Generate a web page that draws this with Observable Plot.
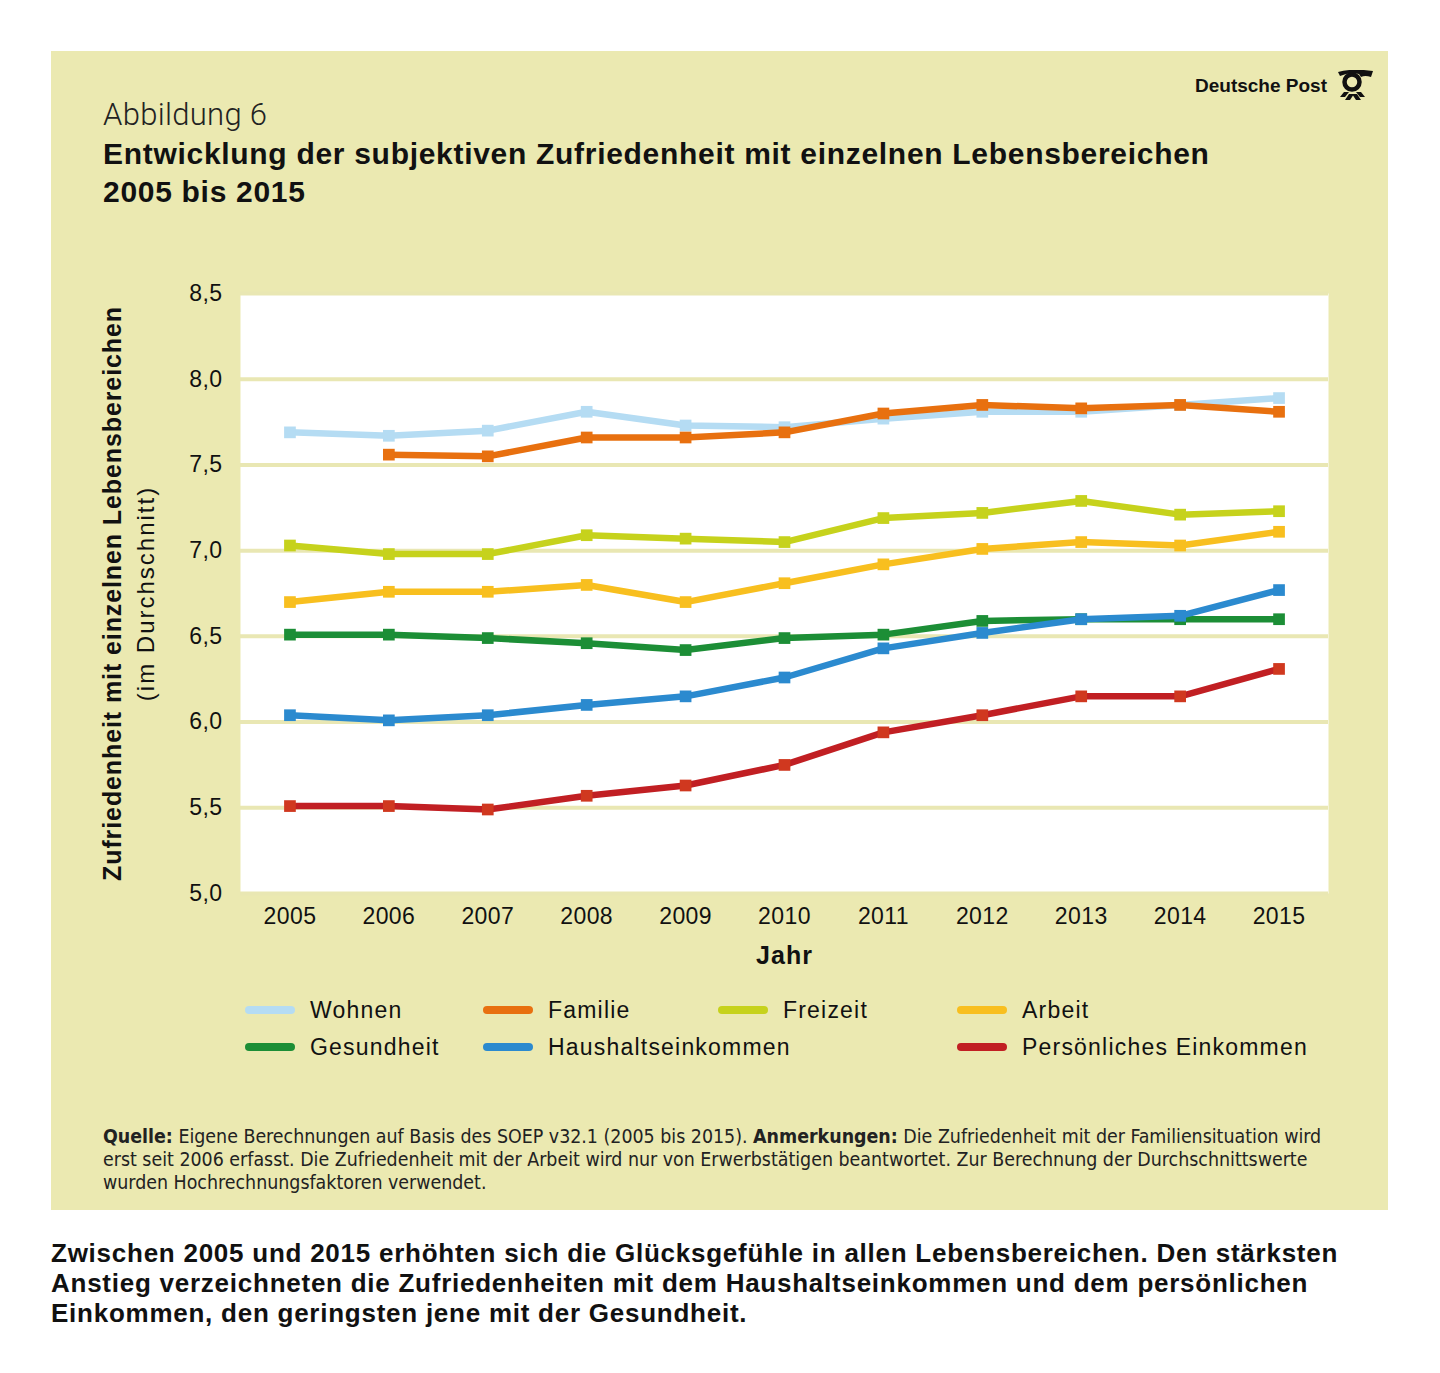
<!DOCTYPE html>
<html><head><meta charset="utf-8">
<script src="https://cdn.jsdelivr.net/npm/d3@7"></script>
<script src="https://cdn.jsdelivr.net/npm/@observablehq/plot@0.6"></script>
<style>
body{margin:0;background:#fff;font-family:"Liberation Sans",Arial,sans-serif;color:#111}
#page{position:relative;width:1440px;height:1373px;overflow:hidden}
#panel{position:absolute;left:51px;top:51px;width:1337px;height:1159px;background:#ebe9b1}
.abs{position:absolute;white-space:nowrap}
#fig{left:103px;top:96px;font-size:31px;line-height:38px;letter-spacing:0.3px;font-family:Roboto,"Liberation Sans",sans-serif;font-weight:300;color:#222}
#title{left:103px;top:135px;font-size:30px;line-height:38px;letter-spacing:0.7px;font-weight:bold}
#chart{position:absolute;left:51px;top:253px}
.leg{position:absolute;height:30px;display:flex;align-items:center;font-size:23px;letter-spacing:1.2px;color:#111}
.sw{display:inline-block;width:50px;height:8px;border-radius:4px;margin-right:15px}
#foot{left:103px;top:1125px;font-size:19.4px;line-height:23px;font-family:"Liberation Sans Narrow","DejaVu Sans Condensed","Roboto Condensed",sans-serif;color:#222}
#cap{left:51px;top:1238px;font-size:26px;line-height:30px;letter-spacing:0.75px;font-weight:bold}
#logo{left:1195px;top:70px;display:flex;align-items:center;font-weight:bold;font-size:19px}
</style></head>
<body><div id="page">
<div id="panel"></div>
<div class="abs" id="logo"><span>Deutsche Post</span>
<svg width="40" height="32" viewBox="0 0 40 32" style="margin-left:8px">
<circle cx="17" cy="12" r="7.5" fill="none" stroke="#111" stroke-width="4.5"/>
<path d="M3 2 Q17 -2 38 1 L36 7 Q30 5 26 7 L24 4 Q14 2 5 6 Z" fill="#111"/>
<path d="M9 22 L14 22 L10 27 L5 27 Z M14 24 L19 24 L15 30 L10 30 Z" fill="#111"/>
<path d="M21 22 L26 22 L30 27 L25 27 Z M17 24 L22 24 L26 30 L21 30 Z" fill="#111"/>
</svg></div>
<div class="abs" id="fig">Abbildung 6</div>
<div class="abs" id="title">Entwicklung der subjektiven Zufriedenheit mit einzelnen Lebensbereichen<br>2005 bis 2015</div>
<div id="chart"></div>
<div id="legend"></div>
<div class="abs" id="foot"><b>Quelle:</b> Eigene Berechnungen auf Basis des SOEP v32.1 (2005 bis 2015). <b>Anmerkungen:</b> Die Zufriedenheit mit der Familiensituation wird<br>erst seit 2006 erfasst. Die Zufriedenheit mit der Arbeit wird nur von Erwerbstätigen beantwortet. Zur Berechnung der Durchschnittswerte<br>wurden Hochrechnungsfaktoren verwendet.</div>
<div class="abs" id="cap">Zwischen 2005 und 2015 erhöhten sich die Glücksgefühle in allen Lebensbereichen. Den stärksten<br>Anstieg verzeichneten die Zufriedenheiten mit dem Haushaltseinkommen und dem persönlichen<br>Einkommen, den geringsten jene mit der Gesundheit.</div>
</div>
<script>
const years = [2005, 2006, 2007, 2008, 2009, 2010, 2011, 2012, 2013, 2014, 2015];
const yTicks = [5.0, 5.5, 6.0, 6.5, 7.0, 7.5, 8.0, 8.5];
const seriesNames = ["Wohnen", "Familie", "Freizeit", "Arbeit", "Gesundheit", "Haushaltseinkommen", "Persönliches Einkommen"];
const seriesColors = ["#b5dcf3", "#e8700f", "#c6d21c", "#f8bf1f", "#1c8e36", "#2b8acf", "#c11f23"];
const markerColors = ["#b5dcf3", "#e8700f", "#c6d21c", "#f8bf1f", "#1c8e36", "#2b8acf", "#d0381f"];
const wohnen      = [7.69, 7.67, 7.70, 7.81, 7.73, 7.72, 7.77, 7.81, 7.81, 7.85, 7.89];
const familie     = [null, 7.56, 7.55, 7.66, 7.66, 7.69, 7.80, 7.85, 7.83, 7.85, 7.81];
const freizeit    = [7.03, 6.98, 6.98, 7.09, 7.07, 7.05, 7.19, 7.22, 7.29, 7.21, 7.23];
const arbeit      = [6.70, 6.76, 6.76, 6.80, 6.70, 6.81, 6.92, 7.01, 7.05, 7.03, 7.11];
const gesundheit  = [6.51, 6.51, 6.49, 6.46, 6.42, 6.49, 6.51, 6.59, 6.60, 6.60, 6.60];
const haushalt    = [6.04, 6.01, 6.04, 6.10, 6.15, 6.26, 6.43, 6.52, 6.60, 6.62, 6.77];
const persoenlich = [5.51, 5.51, 5.49, 5.57, 5.63, 5.75, 5.94, 6.04, 6.15, 6.15, 6.31];
const seriesValues = [wohnen, familie, freizeit, arbeit, gesundheit, haushalt, persoenlich];
const yLabel = "Zufriedenheit mit einzelnen Lebensbereichen";
const yLabel2 = "(im Durchschnitt)";
const xLabel = "Jahr";

const rows = [];
seriesNames.forEach((name, i) => seriesValues[i].forEach((v, j) => {
  if (v != null) rows.push({series: name, year: years[j], value: v});
}));

const seriesMarks = seriesNames.flatMap((name, i) => {
  const d = rows.filter(r => r.series === name);
  return [
    Plot.line(d, {x: "year", y: "value", stroke: seriesColors[i], strokeWidth: 6.5}),
    Plot.dot(d, {x: "year", y: "value", fill: markerColors[i], symbol: "square", r: 6.6})
  ];
});

const chart = Plot.plot({
  width: 1337, height: 740,
  marginLeft: 189, marginRight: 60, marginTop: 40, marginBottom: 100,
  style: {fontFamily: "'Liberation Sans', Arial, sans-serif", fontSize: "23px", color: "#111", background: "transparent", overflow: "visible"},
  x: {domain: [2004.5, 2015.5]},
  y: {domain: [5, 8.5]},
  marks: [
    Plot.frame({fill: "white", stroke: "none"}),
    Plot.ruleY(yTicks, {stroke: "#e9e7b3", strokeWidth: 4}),
    Plot.axisX({ticks: years, tickSize: 0, tickPadding: 14, tickFormat: d => String(d), label: null, fontSize: 23}),
    Plot.axisY({ticks: yTicks, tickSize: 0, tickPadding: 18, tickFormat: d => d.toFixed(1).replace(".", ","), label: null, fontSize: 23}),
    ...seriesMarks,
    Plot.text([xLabel], {text: d => d, frameAnchor: "bottom", lineAnchor: "middle", dy: 62, fontWeight: "bold", fontSize: 25}),
    Plot.text([yLabel], {text: d => d, frameAnchor: "left", textAnchor: "middle", lineAnchor: "middle", rotate: -90, dx: -128, fontWeight: "bold", fontSize: 25}),
    Plot.text([yLabel2], {text: d => d, frameAnchor: "left", textAnchor: "middle", lineAnchor: "middle", rotate: -90, dx: -94, fontSize: 24})
  ]
});
// letter spacing to match the reference's wider type
const texts = chart.querySelectorAll('g[aria-label="text"] text');
texts.forEach(t => {
  const s = t.textContent;
  if (s === yLabel) t.style.letterSpacing = "0.9px";
  else if (s === yLabel2) t.style.letterSpacing = "2px";
  else if (s === xLabel) t.style.letterSpacing = "1px";
});
chart.querySelectorAll('g[aria-label$="tick label"] text').forEach(t => t.style.letterSpacing = "0.4px");
document.getElementById("chart").appendChild(chart);

// legend
const legPos = [[245, 1010], [483, 1010], [718, 1010], [957, 1010], [245, 1047], [483, 1047], [957, 1047]];
const leg = document.getElementById("legend");
seriesNames.forEach((name, i) => {
  const el = document.createElement("div");
  el.className = "leg";
  el.style.left = legPos[i][0] + "px";
  el.style.top = (legPos[i][1] - 15) + "px";
  el.innerHTML = `<span class="sw" style="background:${seriesColors[i]}"></span><span>${name}</span>`;
  leg.appendChild(el);
});
</script>
</body></html>
